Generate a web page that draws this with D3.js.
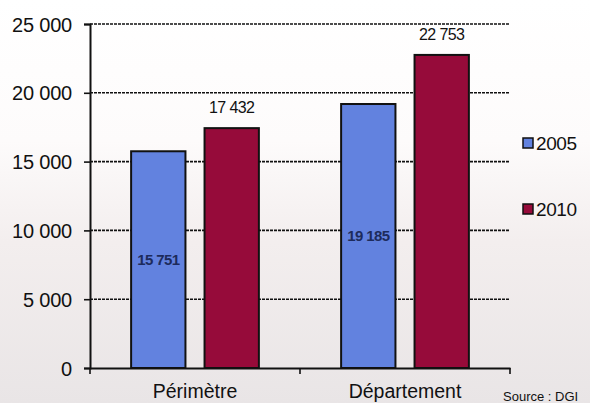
<!DOCTYPE html>
<html><head><meta charset="utf-8">
<script src="https://cdn.jsdelivr.net/npm/d3@7"></script>
<style>body{margin:0;padding:0;background:#fff;}svg{display:block;}</style>
</head><body>
<script>
const categories = ["Périmètre", "Département"];
const seriesNames = ["2005", "2010"];
const values2005 = [15751, 19185];
const values2010 = [17432, 22753];
const labels2005 = ["15 751", "19 185"];
const labels2010 = ["17 432", "22 753"];
const yTicks = [0, 5000, 10000, 15000, 20000, 25000];
const yTickLabels = ["0", "5 000", "10 000", "15 000", "20 000", "25 000"];
const colors = ["#6282df", "#960b3a"];

const W = 590, H = 403;
const FONT = "Liberation Sans, Arial, sans-serif";
const svg = d3.select("body").append("svg").attr("width", W).attr("height", H);

const defs = svg.append("defs");
const g0 = defs.append("linearGradient").attr("id","bg").attr("x1",0).attr("y1",0).attr("x2",0).attr("y2",1);
g0.append("stop").attr("offset","0").attr("stop-color","#ffffff");
g0.append("stop").attr("offset","0.35").attr("stop-color","#fdfbfb");
g0.append("stop").attr("offset","0.6").attr("stop-color","#f3eeee");
g0.append("stop").attr("offset","1").attr("stop-color","#e9e5e6");
svg.append("rect").attr("width",W).attr("height",H).attr("fill","url(#bg)");

const x0 = 90, x1 = 510, yTop = 24, yBot = 368;
const y = d3.scaleLinear().domain([0, 25000]).range([yBot, yTop]);
const x = d3.scaleBand().domain(categories).range([x0, x1]).paddingInner(0).paddingOuter(0);
const xs = d3.scaleBand().domain(seriesNames).range([0, x.bandwidth()]).paddingInner(0.26).paddingOuter(0.56);

// gridlines
svg.append("g").selectAll("line").data(yTicks.filter(d => d > 0)).join("line")
  .attr("x1", x0).attr("x2", x1)
  .attr("y1", d => y(d)).attr("y2", d => y(d))
  .attr("stroke", "#111").attr("stroke-width", 1.6).attr("stroke-dasharray", "3,1");

// y axis
const yAxis = d3.axisLeft(y).tickValues(yTicks).tickSize(6).tickFormat((d,i) => yTickLabels[i]);
const ya = svg.append("g").attr("transform", `translate(${x0},0)`).call(yAxis);
ya.select(".domain").attr("stroke", "#111").attr("stroke-width", 2);
ya.selectAll(".tick line").attr("stroke", "#111").attr("stroke-width", 1.6);
ya.selectAll(".tick text").attr("x", -18).attr("dy", "0.35em").attr("font-family", FONT)
  .attr("font-size", 20).attr("fill", "#111").attr("letter-spacing", "-0.2");

// bars
const data = [];
categories.forEach((c, i) => {
  data.push({cat: c, s: "2005", v: values2005[i], lab: labels2005[i], col: colors[0]});
  data.push({cat: c, s: "2010", v: values2010[i], lab: labels2010[i], col: colors[1]});
});
svg.append("g").selectAll("rect").data(data).join("rect")
  .attr("x", d => x(d.cat) + xs(d.s))
  .attr("width", xs.bandwidth())
  .attr("y", d => y(d.v))
  .attr("height", d => yBot - y(d.v))
  .attr("fill", d => d.col)
  .attr("stroke", "#111").attr("stroke-width", 2);

// value labels
svg.append("g").selectAll("text").data(data).join("text")
  .attr("x", d => x(d.cat) + xs(d.s) + xs.bandwidth()/2)
  .attr("y", d => d.s === "2010" ? y(d.v) - 15 : y(d.v / 2) + 5)
  .attr("text-anchor", "middle")
  .attr("font-family", FONT)
  .attr("font-size", d => d.s === "2010" ? 16 : 15)
  .attr("font-weight", d => d.s === "2010" ? "normal" : "bold")
  .attr("fill", d => d.s === "2010" ? "#111" : "#1d2b5c")
  .attr("letter-spacing", "-0.6")
  .text(d => d.lab);

// x axis
const xAxis = d3.axisBottom(x).tickSize(0).tickFormat(d => d);
const xa = svg.append("g").attr("transform", `translate(0,${yBot})`).call(xAxis);
xa.select(".domain").attr("stroke", "#111").attr("stroke-width", 2);
xa.selectAll(".tick text").attr("dy", 0).attr("y", 30).attr("font-family", FONT)
  .attr("font-size", 19.5).attr("fill", "#111");
// category separator ticks
svg.append("g").selectAll("line").data([x0, x0 + x.bandwidth(), x1]).join("line")
  .attr("x1", d => d).attr("x2", d => d).attr("y1", yBot).attr("y2", yBot + 6)
  .attr("stroke", "#111").attr("stroke-width", 1.6);

// legend
const leg = svg.append("g");
seriesNames.forEach((s, i) => {
  const ly = 143 + i * 66;
  leg.append("rect").attr("x", 523).attr("y", ly - 5).attr("width", 10).attr("height", 10)
    .attr("fill", colors[i]).attr("stroke", "#111").attr("stroke-width", 1.5);
  leg.append("text").attr("x", 536).attr("y", ly + 7).attr("font-family", FONT)
    .attr("font-size", 19).attr("fill", "#111").attr("letter-spacing", "-0.4").text(s);
});

// source
svg.append("text").attr("x", 503).attr("y", 401).attr("font-family", FONT)
  .attr("font-size", 13).attr("fill", "#111").text("Source : DGI");
</script>
</body></html>
